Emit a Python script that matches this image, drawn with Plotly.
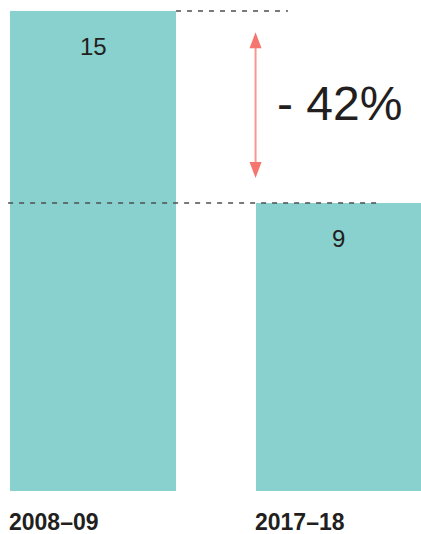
import plotly.graph_objects as go

# Values
periods = ["2008–09", "2017–18"]
counts = [15, 9]
change_label = "- 42%"

bar_color = "#88d1ce"
arrow_color = "#f4766f"
text_color = "#231f20"

bar_width = 0.676
x_pos = [0, 1]

fig = go.Figure()
fig.add_trace(go.Bar(
    x=x_pos, y=counts, width=bar_width,
    marker=dict(color=bar_color, line=dict(width=0)),
    hoverinfo="skip", showlegend=False,
))

# value labels inside the top of each bar
for xp, v in zip(x_pos, counts):
    fig.add_annotation(x=xp, y=v, text=str(v), showarrow=False,
                       yanchor="middle", yshift=-35,
                       font=dict(family="Liberation Sans", size=24, color=text_color))

# period labels under the bars, left aligned with the bar edge
for xp, lab in zip(x_pos, periods):
    fig.add_annotation(x=xp - bar_width / 2, y=0, text="<b>" + lab + "</b>",
                       showarrow=False, xanchor="left", yanchor="middle",
                       xshift=-3, yshift=-31,
                       font=dict(family="Liberation Sans", size=23, color=text_color))

# dashed reference lines at the two levels
dash_style = dict(color="#4d4d4d", width=1.5, dash="5px,6px")
fig.add_shape(type="line", x0=x_pos[0] + bar_width / 2, x1=0.794,
              y0=counts[0], y1=counts[0], line=dash_style, layer="above")
fig.add_shape(type="line", x0=-0.346, x1=1.153,
              y0=counts[1], y1=counts[1], line=dash_style, layer="above")

# double-headed arrow between the levels
ax = x_pos[1] - bar_width / 2
tip_top = counts[0] - 0.66
tip_bot = counts[1] + 0.78
fig.add_shape(type="line", x0=ax, x1=ax, y0=tip_bot + 0.4, y1=tip_top - 0.4,
              line=dict(color="#f69791", width=2), layer="above")
fig.add_shape(type="path", xref="x", yref="y",
              xsizemode="pixel", ysizemode="pixel", xanchor=ax, yanchor=tip_top,
              path="M0,0 L-6,-16 L6,-16 Z",
              fillcolor=arrow_color, line=dict(width=0), layer="above")
fig.add_shape(type="path", xref="x", yref="y",
              xsizemode="pixel", ysizemode="pixel", xanchor=ax, yanchor=tip_bot,
              path="M0,0 L-6,16 L6,16 Z",
              fillcolor=arrow_color, line=dict(width=0), layer="above")

fig.add_annotation(x=0.741, y=12.1, text=change_label, showarrow=False,
                   xanchor="left", yanchor="middle",
                   font=dict(family="Liberation Sans", size=48, color=text_color))

fig.update_layout(
    width=421, height=534,
    margin=dict(l=0, r=0, t=0, b=43),
    paper_bgcolor="white", plot_bgcolor="white",
    bargap=0,
    xaxis=dict(range=[-0.379, 1.336], visible=False, fixedrange=True),
    yaxis=dict(range=[0, 15.344], visible=False, fixedrange=True),
)

fig.write_html("out.html")
